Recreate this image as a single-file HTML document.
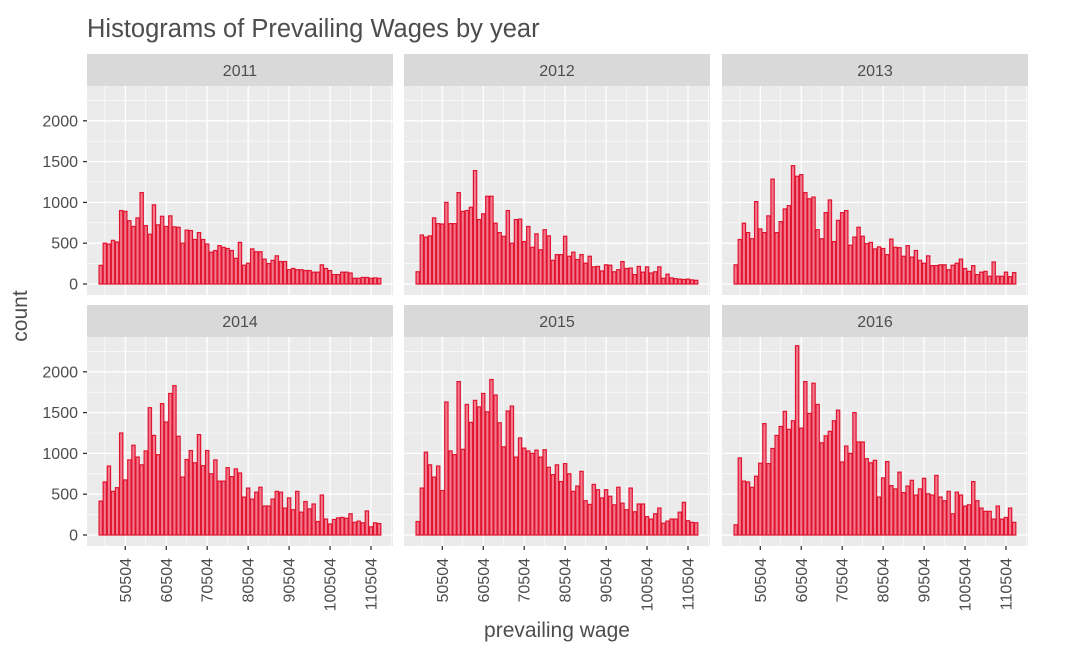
<!DOCTYPE html>
<html><head><meta charset="utf-8">
<style>
html,body{margin:0;padding:0;background:#fff;}
svg{display:block;font-family:"Liberation Sans",Arial,sans-serif;}
</style></head>
<body>
<svg id="chart" width="1065" height="647" viewBox="0 0 1065 647">
<text x="87" y="37" font-size="25.5" fill="#4d4d4d">Histograms of Prevailing Wages by year</text>
<text x="557" y="637" font-size="21" fill="#4d4d4d" text-anchor="middle">prevailing wage</text>
<text transform="translate(27,316) rotate(-90)" font-size="21" fill="#4d4d4d" text-anchor="middle">count</text>
<g id="panels"></g>
</svg>
<script>
const years = ["2011","2012","2013","2014","2015","2016"];
const binStart = 44000;
const binWidth = 1000;
const xTicks = [50504,60504,70504,80504,90504,100504,110504];
const yTicks = [0,500,1000,1500,2000];
const c2011 = [228,500,490,535,515,900,890,775,705,810,1120,715,610,970,725,830,705,835,700,695,500,660,655,545,630,545,490,390,410,470,450,435,410,315,510,230,255,430,395,395,305,250,290,345,275,275,175,190,175,175,165,165,145,145,235,190,165,115,115,145,145,135,70,70,80,80,70,75,70];
const c2012 = [150,600,575,590,810,740,735,1000,740,740,1120,890,900,940,1390,790,860,1075,1075,745,630,585,900,500,790,795,520,705,450,615,420,665,590,290,360,360,585,340,390,300,360,255,340,210,215,160,235,230,150,175,275,190,195,115,215,145,210,135,150,210,70,120,75,65,60,55,60,50,45];
const c2013 = [235,545,745,630,555,1010,675,630,835,1285,630,765,920,960,1450,1320,1340,1120,1045,1065,665,555,875,1030,520,780,875,900,475,575,695,585,495,510,430,455,435,360,550,450,445,340,470,330,410,290,255,345,225,225,235,235,175,230,255,305,190,155,225,115,145,155,95,270,95,95,145,90,140];
const c2014 = [415,650,845,535,580,1250,675,920,1100,955,860,1030,1560,1220,985,1610,1385,1735,1830,1210,710,925,1035,885,1230,850,1035,750,920,660,660,825,715,810,760,465,575,440,525,585,355,355,440,535,525,330,455,310,535,280,410,320,380,165,490,195,135,190,210,215,205,260,155,170,150,295,100,150,140];
const c2015 = [165,575,1015,860,710,845,545,1630,1030,985,1880,1050,1600,1380,1650,1570,1735,1510,1905,1715,1375,1080,1520,1580,955,1190,1065,1030,1000,1040,955,1045,830,740,860,655,875,750,535,600,780,420,375,620,555,455,555,475,370,585,390,310,575,285,380,380,225,195,260,330,145,170,195,195,280,400,175,155,150];
const c2016 = [125,945,660,650,585,720,880,1365,875,1060,1220,1330,1515,1295,1400,2320,1310,1880,1490,1860,1600,1130,1215,1270,1400,1530,895,1090,1000,1500,1140,1140,935,885,915,465,700,900,605,565,770,520,600,670,490,565,695,505,490,730,465,420,535,260,525,490,355,370,655,420,330,290,290,195,355,195,215,330,155];
const counts = [c2011,c2012,c2013,c2014,c2015,c2016];

const NS = "http://www.w3.org/2000/svg";
const panelsG = document.getElementById("panels");
const colX = [87,404,722];
const rowTop = [54,305];
const PW = 306, STRIP = 32, PH = 209;
function mk(tag, attrs, parent){const e=document.createElementNS(NS,tag);for(const k in attrs)e.setAttribute(k,attrs[k]);parent.appendChild(e);return e;}
function xScale(w, left){return left + 38.3 + (w - 50504)*0.004095;}
function yScale(c, zero){return zero - c*0.0816;}

years.forEach((yr, i) => {
  const col = i % 3, row = Math.floor(i/3);
  const left = colX[col], top = rowTop[row];
  const pTop = top + STRIP, zero = pTop + 198;
  const g = mk("g", {}, panelsG);
  
  
  const strip = mk("rect", {x:left, y:top, width:PW, height:STRIP, fill:"#d9d9d9"}, g);
  
  
  const st = mk("text", {x:left+PW/2, y:top+22, "font-size":16, fill:"#4d4d4d", "text-anchor":"middle"}, g);
  st.textContent = yr;
  
  
  const bg = mk("rect", {x:left, y:pTop, width:PW, height:PH, fill:"#ebebeb"}, g);
  
  
  for (let k=0;k<yTicks.length;k++){
    const yv = yScale(yTicks[k]+250, zero);
    if (yv > pTop) mk("line",{x1:left,x2:left+PW,y1:yv,y2:yv,stroke:"#fff","stroke-width":0.6},g);
  }
  for (let k=-1;k<xTicks.length;k++){
    const xv = xScale(xTicks[0] + k*10000 + 5000, left);
    if (xv > left && xv < left+PW) mk("line",{x1:xv,x2:xv,y1:pTop,y2:pTop+PH,stroke:"#fff","stroke-width":0.6},g);
  }
  yTicks.forEach(t => {
    const yv = yScale(t, zero);
    mk("line",{x1:left,x2:left+PW,y1:yv,y2:yv,stroke:"#fff","stroke-width":1.3},g);
  });
  xTicks.forEach(t => {
    const xv = xScale(t, left);
    mk("line",{x1:xv,x2:xv,y1:pTop,y2:pTop+PH,stroke:"#fff","stroke-width":1.3},g);
  });
  counts[i].forEach((c, b) => {
    const x0 = xScale(binStart + b*binWidth, left);
    const x1 = xScale(binStart + (b+1)*binWidth, left);
    const yv = yScale(c, zero);
    const r = mk("rect",{x:x0+0.4,y:yv,width:x1-x0-0.8,height:zero-yv,fill:"#f27a8e",stroke:"#e0142f","stroke-width":1.2},g);
    
    
  });
  if (col === 0){
    yTicks.forEach(t => {
      const yv = yScale(t, zero);
      mk("line",{x1:left-4,x2:left,y1:yv,y2:yv,stroke:"#333","stroke-width":1.3},g);
      const tl = mk("text",{x:left-9,y:yv+5.5,"font-size":16,fill:"#4d4d4d","text-anchor":"end"},g);
      tl.textContent = t;
      
      
    });
  }
  if (row === 1){
    xTicks.forEach(t => {
      const xv = xScale(t, left);
      mk("line",{x1:xv,x2:xv,y1:pTop+PH,y2:pTop+PH+4,stroke:"#333","stroke-width":1.3},g);
      const tl = mk("text",{transform:"translate("+(xv+5.5)+","+(pTop+PH+12)+") rotate(-90)","font-size":16,fill:"#4d4d4d","text-anchor":"end"},g);
      tl.textContent = t;
      
      
    });
  }
});
</script>
</body></html>
